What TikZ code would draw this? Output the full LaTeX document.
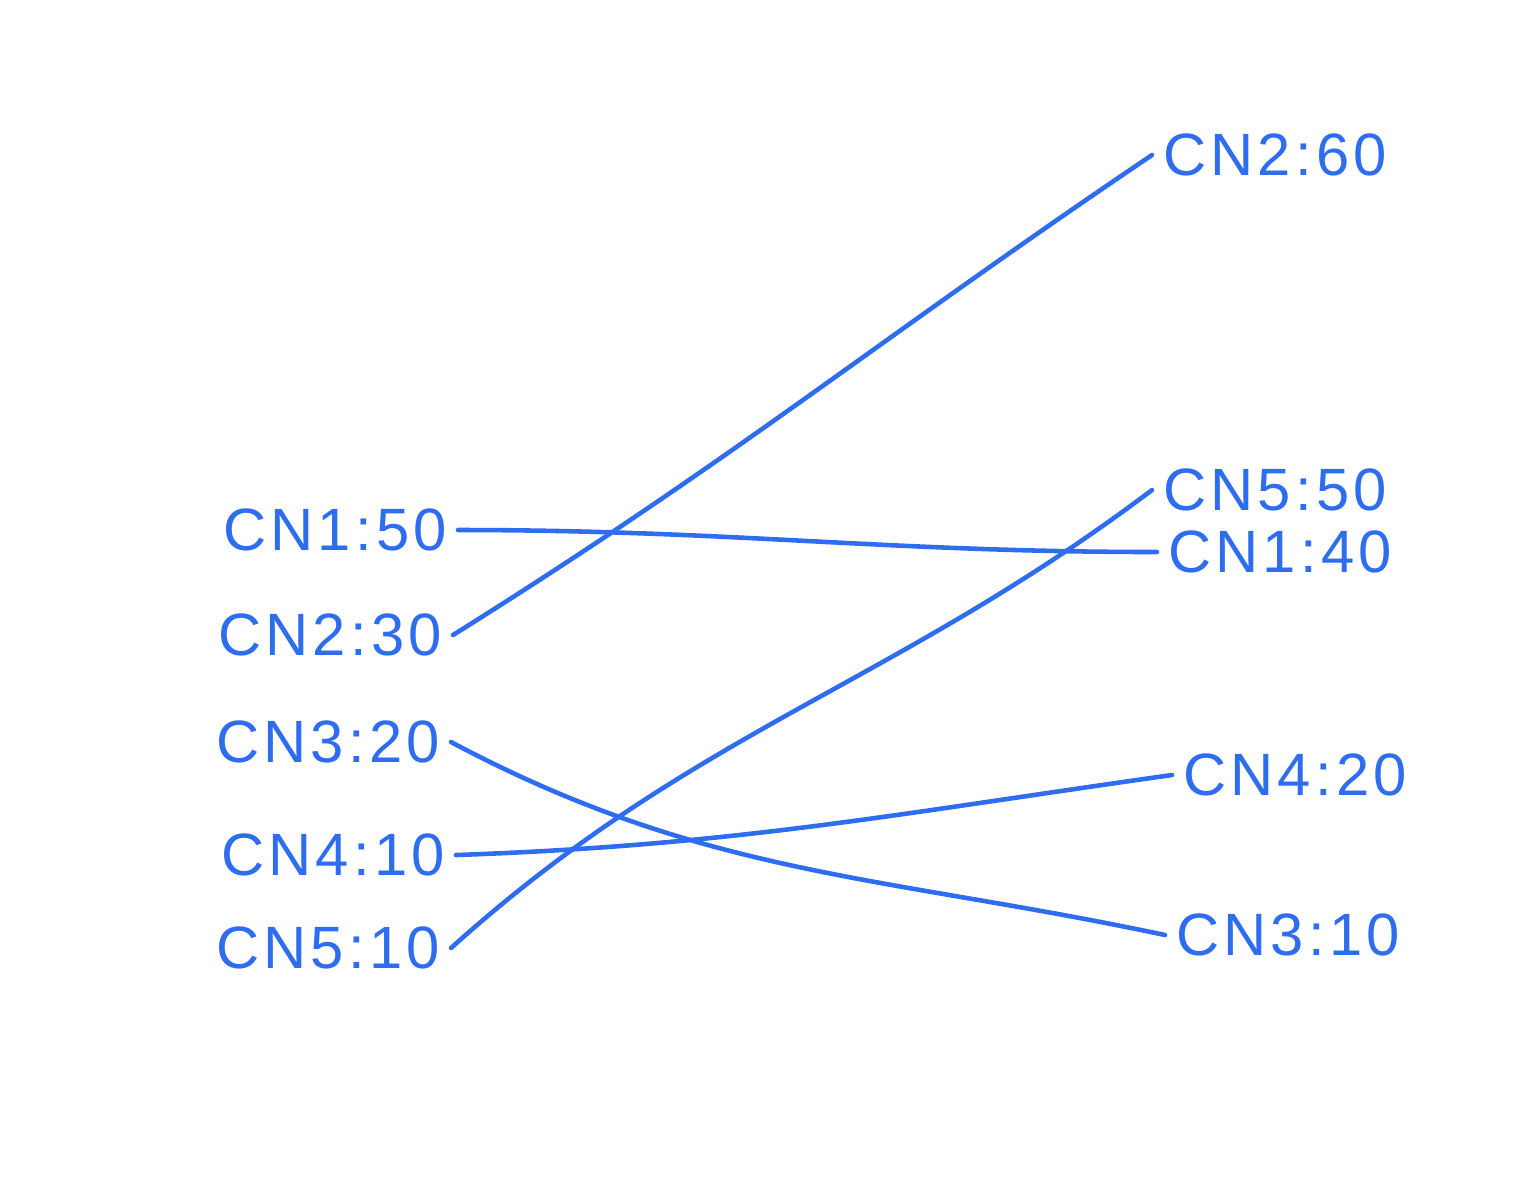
\documentclass[tikz,border=0pt]{standalone}
\usepackage{fontspec}
\setmainfont{Liberation Sans}
\usepackage{tikz}
\definecolor{ink}{RGB}{46,108,240}

\begin{document}
\begin{tikzpicture}[
    entry/.style={anchor=west,inner sep=3pt,text=ink,font=\fontsize{17}{21}\selectfont\addfontfeature{LetterSpace=7}},
    link/.style={draw=ink,line width=1.3pt,line cap=round}]
\useasboundingbox (0,0) rectangle (15.37,-11.77);
\node[entry] (l1) at (2.12,-5.30) {CN1:50};
\node[entry] (l2) at (2.07,-6.35) {CN2:30};
\node[entry] (l3) at (2.05,-7.42) {CN3:20};
\node[entry] (l4) at (2.10,-8.55) {CN4:10};
\node[entry] (l5) at (2.05,-9.48) {CN5:10};
\node[entry] (r2) at (11.52,-1.55) {CN2:60};
\node[entry] (r5) at (11.52,-4.90) {CN5:50};
\node[entry] (r1) at (11.57,-5.52) {CN1:40};
\node[entry] (r4) at (11.72,-7.75) {CN4:20};
\node[entry] (r3) at (11.65,-9.35) {CN3:10};
\draw[link] (l1.east) to[out=0,in=180] (r1.west);
\draw[link] (l2.east) to[out=32,in=214] (r2.west);
\draw[link] (l3.east) to[out=-28,in=168] (r3.west);
\draw[link] (l4.east) to[out=2,in=188] (r4.west);
\draw[link] (l5.east) to[out=42,in=217] (r5.west);
\end{tikzpicture}
\end{document}
